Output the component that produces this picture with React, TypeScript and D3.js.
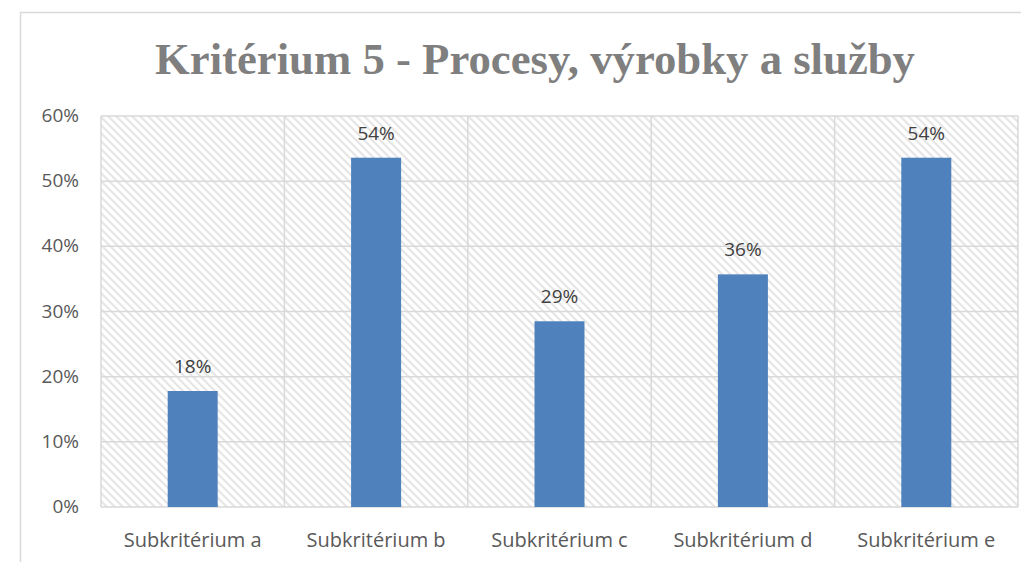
import React from "react";
import * as d3 from "d3";

const categories = ["Subkritérium a", "Subkritérium b", "Subkritérium c", "Subkritérium d", "Subkritérium e"];
const values = [0.178, 0.536, 0.285, 0.357, 0.536];
const valueLabels = ["18%", "54%", "29%", "36%", "54%"];
const yTicks = [0, 0.1, 0.2, 0.3, 0.4, 0.5, 0.6];
const title = "Kritérium 5 - Procesy, výrobky a služby";

export default function App() {
  const W = 1021, H = 562;
  const left = 101, right = 1018, top = 116, bottom = 507;
  const x = d3.scaleBand<string>().domain(categories).range([left, right]).paddingInner(0).paddingOuter(0);
  const y = d3.scaleLinear().domain([0, 0.6]).range([bottom, top]);
  const barW = 50;
  const grid = "#d9d9d9";
  const sans = "'Open Sans', 'Noto Sans', sans-serif";
  return (
    <svg width={W} height={H} style={{ position: "absolute", left: 0, top: 0 }}>
      <defs>
        <pattern id="hatch" width="8" height="8" patternUnits="userSpaceOnUse">
          <rect width="8" height="8" fill="#fff" />
          <path d="M-2,-2 L10,10 M-2,6 L2,10 M6,-2 L10,2" stroke="#e6e6e6" strokeWidth="2.2" />
        </pattern>
      </defs>
      <rect x={0} y={0} width={W} height={H} fill="#fff" />
      <rect x={20.5} y={12.5} width={1010} height={570} fill="#fff" stroke={grid} strokeWidth={1.5} />
      <text x={535} y={74} textAnchor="middle" fontFamily="'Liberation Serif', 'DejaVu Serif', serif" fontWeight="bold" fontSize={44} fill="#7f7f7f" textLength={760} lengthAdjust="spacingAndGlyphs">{title}</text>
      <rect x={left} y={top} width={right - left} height={bottom - top} fill="url(#hatch)" />
      {yTicks.map(t => (
        <line key={"h" + t} x1={left} x2={right} y1={y(t)} y2={y(t)} stroke={grid} strokeWidth={1.5} />
      ))}
      {categories.concat(["end"]).map((c, i) => {
        const xv = i < categories.length ? (x(c) as number) : right;
        return <line key={"v" + i} x1={xv} x2={xv} y1={top} y2={bottom} stroke={grid} strokeWidth={1.5} />;
      })}
      {yTicks.map(t => (
        <text key={"t" + t} x={79} y={y(t) + 6} textAnchor="end" fontFamily={sans} fontSize={19} fill="#595959">{d3.format(".0%")(t)}</text>
      ))}
      {categories.map((c, i) => {
        const cx = (x(c) as number) + x.bandwidth() / 2;
        return (
          <g key={c}>
            <rect x={cx - barW / 2} y={y(values[i])} width={barW} height={bottom - y(values[i])} fill="#4f81bd" />
            <text x={cx} y={y(values[i]) - 18} textAnchor="middle" fontFamily={sans} fontSize={19} fill="#404040">{valueLabels[i]}</text>
            <text x={cx} y={547} textAnchor="middle" fontFamily={sans} fontSize={20} fill="#595959">{c}</text>
          </g>
        );
      })}
    </svg>
  );
}
